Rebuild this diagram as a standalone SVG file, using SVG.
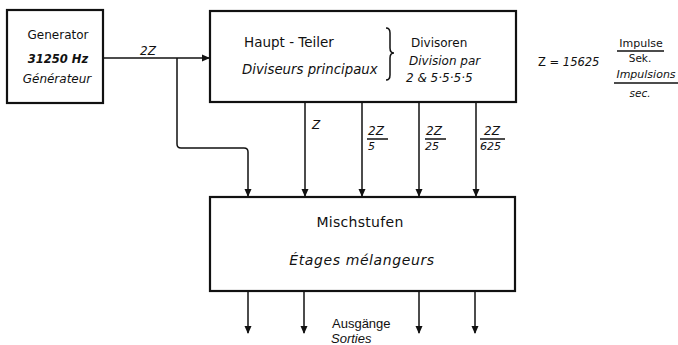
<svg xmlns="http://www.w3.org/2000/svg" width="678" height="345" viewBox="0 0 678 345">
<defs>
<marker id="ah" markerWidth="8" markerHeight="10" refX="7" refY="5" orient="auto" markerUnits="userSpaceOnUse">
<path d="M0,1.5 L8,5 L0,8.5 Z" fill="#111"/>
</marker>
<style>
.box{fill:#fff;stroke:#111;stroke-width:2.2}
.ln{fill:none;stroke:#111;stroke-width:1.5}
text{font-family:"DejaVu Sans","Liberation Sans",sans-serif;fill:#111}
.it{font-style:italic}
.c{text-anchor:middle}
</style>
</defs>
<rect width="678" height="345" fill="#fff"/>
<g id="connectors">
<path class="ln" d="M103,58 H209" marker-end="url(#ah)"/>
<path class="ln" d="M177,58 V144 Q177,148 181,148 H244 Q248,148 248,152 V196" marker-end="url(#ah)"/>
<path class="ln" d="M305,103 V196" marker-end="url(#ah)"/>
<path class="ln" d="M362,103 V196" marker-end="url(#ah)"/>
<path class="ln" d="M419,103 V196" marker-end="url(#ah)"/>
<path class="ln" d="M476,103 V196" marker-end="url(#ah)"/>
<path class="ln" d="M248,291 V333" marker-end="url(#ah)"/>
<path class="ln" d="M304,291 V333" marker-end="url(#ah)"/>
<path class="ln" d="M419,291 V333" marker-end="url(#ah)"/>
<path class="ln" d="M475,291 V333" marker-end="url(#ah)"/>
<text class="it" x="140" y="55" font-size="12">2Z</text>
<text class="it" x="312" y="129" font-size="12">Z</text>
<text class="it" x="368" y="135" font-size="12">2Z</text>
<line class="ln" x1="367" y1="139" x2="388" y2="139" stroke-width="1"/>
<text class="it" x="368" y="150" font-size="11">5</text>
<text class="it" x="426" y="135" font-size="12">2Z</text>
<line class="ln" x1="425" y1="139" x2="446" y2="139" stroke-width="1"/>
<text class="it" x="425" y="150" font-size="11">25</text>
<text class="it" x="484" y="135" font-size="12">2Z</text>
<line class="ln" x1="480" y1="139" x2="505" y2="139" stroke-width="1"/>
<text class="it" x="480" y="150" font-size="11">625</text>
<text x="332" y="328" font-size="13" style="font-family:'Liberation Sans',sans-serif">Ausgänge</text>
<text class="it" x="331" y="343" font-size="13" style="font-family:'Liberation Sans',sans-serif">Sorties</text>
</g>
<g id="generator">
<rect class="box" x="7" y="10" width="96" height="93"/>
<text class="c" x="58" y="39" font-size="12">Generator</text>
<text class="c it" x="58" y="63" font-size="11.5" font-weight="bold">31250 Hz</text>
<text class="c it" x="57" y="83" font-size="12">Générateur</text>
</g>
<g id="haupt-teiler">
<rect class="box" x="210" y="11" width="306" height="91"/>
<text x="244" y="47" font-size="13.5">Haupt - Teiler</text>
<text class="it" x="242" y="74" font-size="13.3">Diviseurs principaux</text>
<path class="ln" d="M386,28 Q390,28 390,33 V48 Q390,53 394,53 Q390,53 390,58 V75 Q390,80 386,80" stroke-width="1.3"/>
<text x="411" y="47" font-size="12">Divisoren</text>
<text class="it" x="409" y="65" font-size="12">Division par</text>
<text class="it" x="406" y="82" font-size="12">2 &amp; 5·5·5·5</text>
</g>
<g id="mischstufen">
<rect class="box" x="210" y="197" width="305" height="94"/>
<text class="c" x="360" y="227" font-size="14" letter-spacing="0.3">Mischstufen</text>
<text class="c it" x="362" y="265" font-size="14" letter-spacing="0.6">Étages mélangeurs</text>
</g>
<g id="legend">
<text x="538" y="66" font-size="11.5">Z = <tspan class="it">15625</tspan></text>
<text class="c" x="641" y="47" font-size="11">Impulse</text>
<line class="ln" x1="617" y1="51" x2="664" y2="51" stroke-width="1"/>
<text class="c" x="640" y="62" font-size="10.5">Sek.</text>
<text class="c it" x="646" y="78" font-size="11">Impulsions</text>
<line class="ln" x1="614" y1="83" x2="678" y2="83" stroke-width="1"/>
<text class="c it" x="640" y="97" font-size="10.5">sec.</text>
</g>
</svg>
